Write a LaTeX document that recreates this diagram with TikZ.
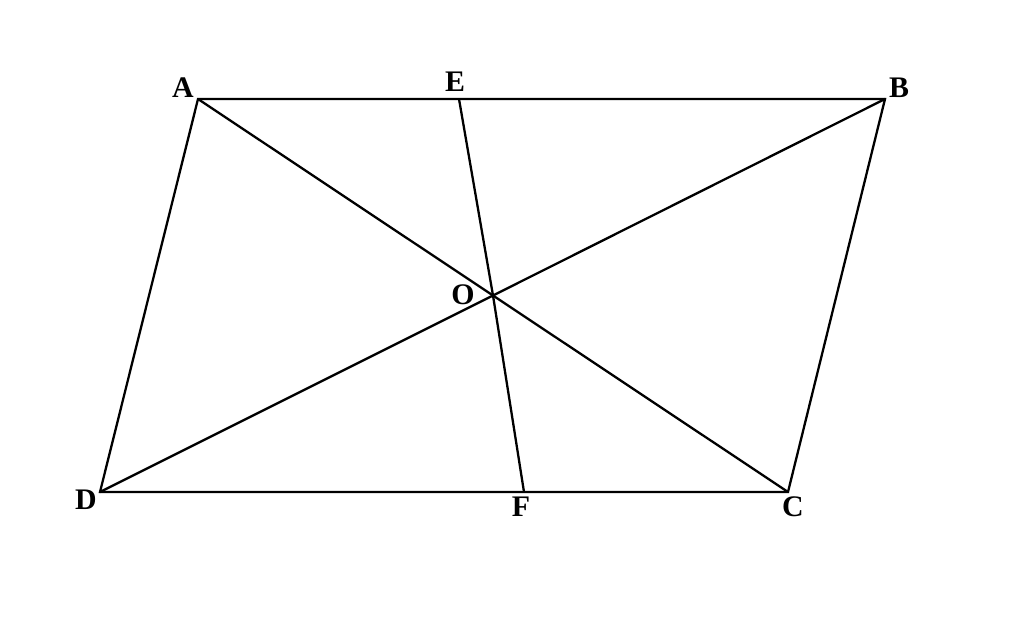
\documentclass[tikz,border=0pt]{standalone}
\usepackage{fontspec}
\setmainfont{Liberation Serif}
\begin{document}
\begin{tikzpicture}[x = .02cm, y = -.02cm, line width = 1.3pt,
		lbl/.style = {font = \fontsize{17}{20}\selectfont\bfseries, inner sep = 0pt}]
		\useasboundingbox (0,0) rectangle (1024,628);
		\coordinate (A) at (198,99);
		\coordinate (B) at (885,99);
		\coordinate (C) at (788,492);
		\coordinate (D) at (100,492);
		\coordinate (O) at (493,295.5);
		\coordinate (E) at (459,99);
		\coordinate (F) at (524,492);
		
		\node (lA) at (183,88) [lbl] {A};
		\node (lB) at (899,88) [lbl] {B};
		\node (lC) at (793,507) [lbl] {C};
		\node (lD) at (86,500) [lbl] {D};
		\node (lE) at (455,82) [lbl] {E};
		\node (lF) at (521,507) [lbl] {F};
		\node (lO) at (463,295) [lbl] {O};
		
		\draw (A) -- (B) -- (C) -- (D) -- cycle;
		\draw (A) -- (O) -- (C);
		\draw (B) -- (O) -- (D);
		\draw (E) -- (O) -- (F);
		\end{tikzpicture}
\end{document}
